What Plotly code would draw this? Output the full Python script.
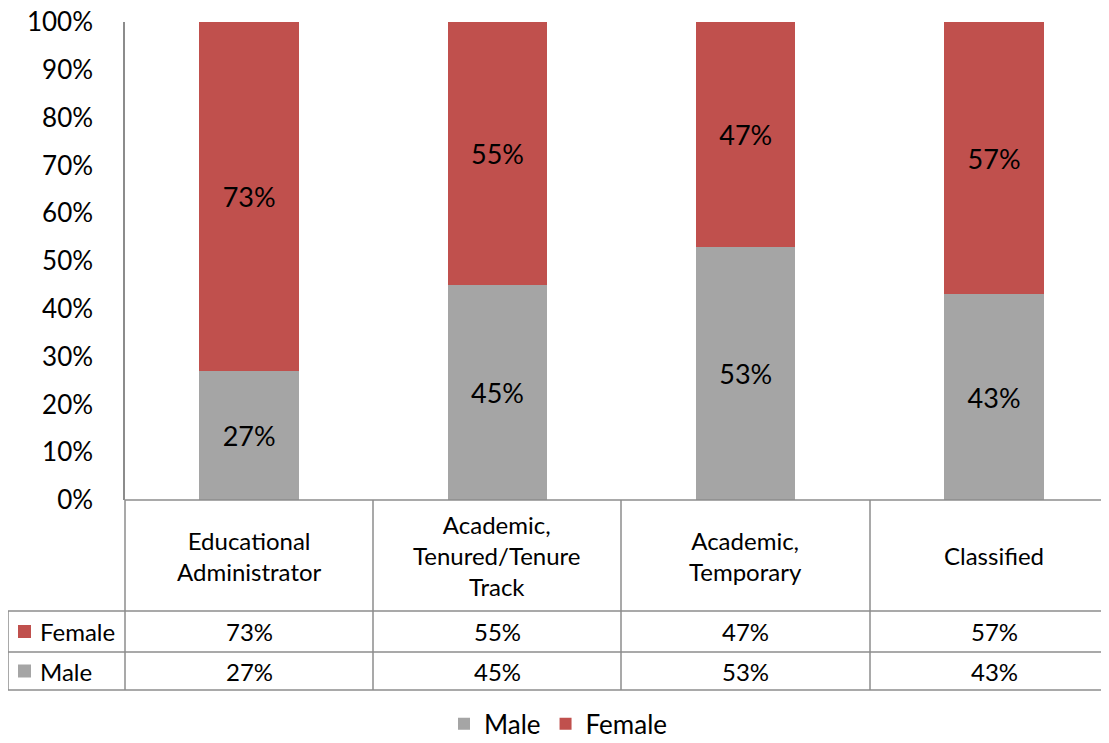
import plotly.graph_objects as go

categories = ["Educational<br>Administrator", "Academic,<br>Tenured/Tenure<br>Track",
              "Academic,<br>Temporary", "Classified"]
male = [0.27, 0.45, 0.53, 0.43]
female = [0.73, 0.55, 0.47, 0.57]
series = [("Male", male, "#A5A5A5"), ("Female", female, "#C0504D")]
yticks = [0, 0.1, 0.2, 0.3, 0.4, 0.5, 0.6, 0.7, 0.8, 0.9, 1.0]

# page body has an 8px margin, so the figure is drawn 8px in from the window edge
OFF = 8
W, H = 1109 - OFF, 743 - OFF
FONT = "Lato, Open Sans, sans-serif"
GRID = "#8C8C8C"


def px(x):
    return (x - OFF) / W


def py(y):
    return 1 - (y - OFF) / H


fig = go.Figure()
for name, vals, color in series:
    fig.add_bar(
        name=name, x=categories, y=vals, marker_color=color, marker_line_width=0,
        text=[f"{v:.0%}" for v in vals], textposition="inside", insidetextanchor="middle",
        textfont=dict(size=27, color="black", family=FONT),
    )

# table lines
table_top, row1, row2, row3 = 500, 611, 652, 690
left, plot_left, right = 8, 125, 1109
col_w = 248.3  # the original chart is cropped on the right, last column is cut
lines = [
    (plot_left, table_top, right, table_top),
    (left, row1, right, row1),
    (left, row2, right, row2),
    (left, row3, right, row3),
    (left, row1, left, row3),
    (plot_left, table_top, plot_left, row3),
    (373, table_top, 373, row3),
    (621, table_top, 621, row3),
    (870, table_top, 870, row3),
]
for x0, y0, x1, y1 in lines:
    fig.add_shape(type="line", xref="paper", yref="paper",
                  x0=px(x0), y0=py(y0), x1=px(x1), y1=py(y1),
                  line=dict(color=GRID, width=1.5))

# header row and value rows
rows = list(zip(series[::-1], [(row1, row2), (row2, row3)]))
for i, cat in enumerate(categories):
    fig.add_annotation(x=cat, xref="x", y=py((table_top + row1) / 2), yref="paper",
                       yanchor="middle", text=cat, showarrow=False,
                       font=dict(size=24, family=FONT, color="black"))
    for (name, vals, color), (ya, yb) in rows:
        fig.add_annotation(x=cat, xref="x", y=py((ya + yb) / 2), yref="paper",
                           yanchor="middle", text=f"{vals[i]:.0%}", showarrow=False,
                           font=dict(size=24, family=FONT, color="black"))

# row headers with legend keys
for (name, vals, color), (ya, yb) in rows:
    mid = (ya + yb) / 2
    fig.add_shape(type="rect", xref="paper", yref="paper", x0=px(18), x1=px(31),
                  y0=py(mid + 6.5), y1=py(mid - 6.5), fillcolor=color, line_width=0)
    fig.add_annotation(x=px(38), xref="paper", xanchor="left", y=py(mid), yref="paper",
                       yanchor="middle", text=name, showarrow=False,
                       font=dict(size=24, family=FONT, color="black"))

fig.update_layout(
    barmode="stack", bargap=0.6, width=W, height=H,
    margin=dict(l=0, r=0, t=0, b=0, autoexpand=False),
    plot_bgcolor="white", paper_bgcolor="white",
    font=dict(family=FONT, color="black"),
    uniformtext=dict(mode="show", minsize=10),
    legend=dict(orientation="h", x=0.5, xanchor="center", y=-0.006, yanchor="bottom",
                font=dict(size=26, family=FONT), traceorder="normal",
                itemwidth=30, entrywidthmode="pixels"),
    xaxis=dict(domain=[px(plot_left), 1],
               range=[-0.5, -0.5 + (right - plot_left) / col_w],
               showticklabels=False, showline=False, showgrid=False, zeroline=False),
    yaxis=dict(domain=[py(table_top), py(22)], range=[0, 1], tickvals=yticks,
               tickformat=".0%", tickfont=dict(size=26, family=FONT), showgrid=False,
               showline=True, linecolor=GRID, linewidth=1.5, zeroline=False, ticks="",
               ticklen=0, ticklabelstandoff=25, ticklabeloverflow="allow"),
)

fig.write_html("out.html")
